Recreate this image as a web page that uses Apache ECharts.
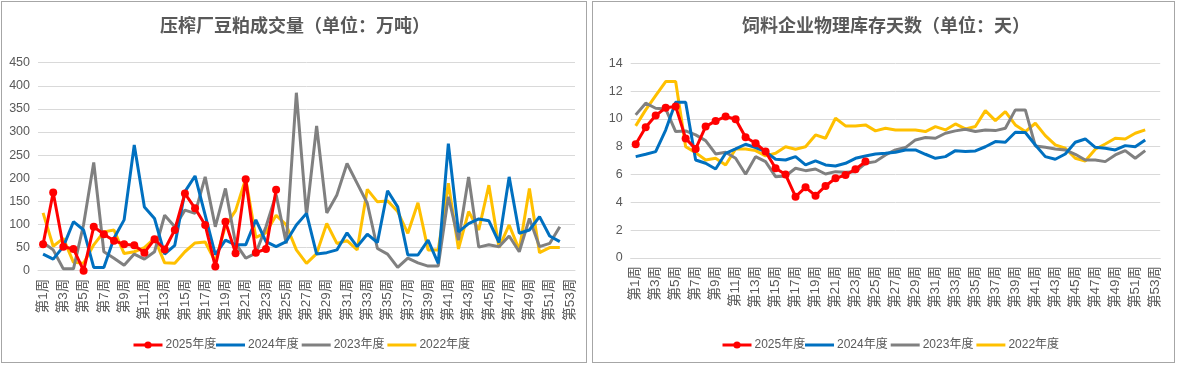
<!DOCTYPE html>
<html><head><meta charset="utf-8">
<script src="https://cdn.jsdelivr.net/npm/echarts@6/dist/echarts.min.js"></script>
<style>
html,body{margin:0;padding:0;background:#fff;width:1182px;height:365px;overflow:hidden;position:relative}
.c{position:absolute;top:0;height:365px}
.b{position:absolute;border:1px solid #a6a6a6;pointer-events:none;box-sizing:border-box}
</style></head><body>
<div id="c1" class="c" style="left:0;width:590px"></div>
<div id="c2" class="c" style="left:590px;width:592px"></div>
<div class="b" style="left:1px;top:1px;width:586px;height:362px"></div>
<div class="b" style="left:592px;top:1px;width:583px;height:362px"></div>
<script>
const weeks = Array.from({length:53},(_,i)=>'第'+(i+1)+'周');
const seriesNames = ['2025年度','2024年度','2023年度','2022年度'];
const colors = ['#FF0000','#0070C0','#808080','#FFC000'];

// 压榨厂豆粕成交量（万吨）
const vol2025 = [57,169,52,47,0,95,79,65,57,55,39,68,46,88,167,135,99,9,106,38,198,39,47,175];
const vol2024 = [36,25,52,106,88,7,7,70,110,272,138,113,36,55,171,205,120,35,66,56,56,110,63,52,63,99,124,36,39,45,82,52,79,61,173,138,34,34,66,16,275,84,102,112,108,61,203,81,88,117,75,63];
const vol2023 = [61,45,4,4,100,234,41,27,12,36,25,41,120,95,131,124,203,95,178,59,27,38,95,165,59,385,120,313,125,164,232,189,146,48,36,7,27,17,10,10,160,66,203,51,56,52,75,41,113,52,59,95];
const vol2022 = [125,53,70,18,16,56,84,88,37,41,50,70,17,16,41,60,62,20,97,130,199,72,82,120,99,45,16,37,102,59,65,45,176,149,151,128,81,147,45,45,189,47,128,88,185,50,99,45,178,39,50,50];
const volTicks = {min:0,max:450,interval:50};

// 饲料企业物理库存天数（天）
const days2025 = [8.18,9.4,10.24,10.8,10.9,8.6,7.84,9.45,9.86,10.17,9.98,8.68,8.25,7.65,6.45,6.0,4.41,5.08,4.48,5.18,5.73,5.97,6.38,6.93];
const days2024 = [7.29,7.46,7.65,9.2,11.2,11.2,7.05,6.81,6.4,7.53,7.84,8.18,7.94,7.65,7.1,7.05,7.29,6.69,6.98,6.69,6.62,6.81,7.17,7.34,7.48,7.53,7.6,7.77,7.77,7.46,7.17,7.29,7.72,7.65,7.7,8.0,8.37,8.32,9.04,9.02,8.13,7.29,7.1,7.48,8.32,8.56,7.96,7.89,7.77,8.08,8.0,8.49];
const days2023 = [10.29,11.13,10.77,10.72,9.09,9.14,8.85,8.44,7.48,7.6,7.17,6.02,7.29,6.93,5.85,5.9,6.45,6.28,6.4,6.04,6.21,6.16,6.21,6.81,6.93,7.41,7.77,7.94,8.49,8.66,8.61,8.97,9.14,9.26,9.09,9.21,9.16,9.33,10.65,10.65,8.06,7.96,7.84,7.77,7.46,7.05,7.05,6.93,7.41,7.72,7.17,7.72];
const days2022 = [9.5,10.65,11.68,12.69,12.69,8.0,7.58,7.05,7.17,6.69,7.84,7.84,7.72,7.34,7.53,8.0,7.82,8.0,8.85,8.61,10.05,9.5,9.5,9.57,9.14,9.33,9.21,9.21,9.21,9.09,9.45,9.21,9.64,9.28,9.45,10.6,9.88,10.53,9.57,9.09,9.69,8.8,8.13,7.89,7.17,6.98,7.82,8.2,8.61,8.56,8.97,9.21];
const daysTicks = {min:0,max:14,interval:2};

const FONT = '"Liberation Sans","Noto Sans CJK SC",sans-serif';
const TXT = '#595959';

function makeOption(title, data, ticks, grid, legendLeft){
  const legText = {fontSize:12,color:TXT,fontFamily:FONT,padding:[0,0,0,-2]};
  return {
    animation:false,
    textStyle:{fontFamily:FONT},
    title:{text:title,left:'center',top:11,textStyle:{fontSize:18,fontWeight:'bold',color:TXT,fontFamily:'"Noto Sans CJK SC",sans-serif'}},
    legend:[
      {data:[seriesNames[0]],top:334,left:legendLeft,itemWidth:29,itemHeight:9,lineStyle:{width:3},textStyle:legText},
      {data:seriesNames.slice(1),top:334,left:legendLeft+84,itemWidth:29,itemHeight:3,itemGap:3,icon:'rect',textStyle:legText}
    ],
    grid:grid,
    xAxis:{type:'category',data:weeks,boundaryGap:true,
      axisLine:{lineStyle:{color:'#d9d9d9'}},axisTick:{show:false},
      axisLabel:{rotate:90,interval:1,fontSize:13.5,color:TXT,margin:8,fontFamily:FONT}},
    yAxis:{type:'value',min:ticks.min,max:ticks.max,interval:ticks.interval,
      axisLine:{show:false},axisTick:{show:false},
      axisLabel:{fontSize:12.5,color:TXT,margin:8,fontFamily:FONT},
      splitLine:{lineStyle:{color:'#d9d9d9',width:1}}},
    series:data.map((d,i)=>({
      name:seriesNames[i],type:'line',data:d,
      symbol:i===0?'circle':'none',showSymbol:i===0,showAllSymbol:true,symbolSize:8,
      itemStyle:{color:colors[i]},
      lineStyle:{color:colors[i],width:3},
      z:10-i
    }))
  };
}

const c1 = echarts.init(document.getElementById('c1'),null,{renderer:'canvas'});
c1.setOption(makeOption('压榨厂豆粕成交量（单位：万吨）',[vol2025,vol2024,vol2023,vol2022],volTicks,
  {left:38,width:537,top:62.7,height:208},127));
const c2 = echarts.init(document.getElementById('c2'),null,{renderer:'canvas'});
c2.setOption(makeOption('饲料企业物理库存天数（单位：天）',[days2025,days2024,days2023,days2022],daysTicks,
  {left:40.7,width:529.5,top:63.3,height:194.7},126));
</script></body></html>
